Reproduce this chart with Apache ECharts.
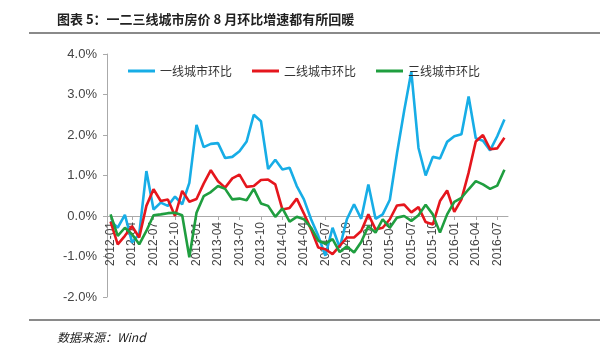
<!DOCTYPE html>
<html><head><meta charset="utf-8">
<script src="https://cdn.jsdelivr.net/npm/echarts@6/dist/echarts.min.js"></script>
<style>html,body{margin:0;padding:0;background:#fff}#c{width:600px;height:355px}</style>
</head><body><div id="c"></div>
<script>
const months = [];
for (let y = 2012; y <= 2016; y++) for (let m = 1; m <= 12; m++) { if (y === 2016 && m > 8) break; months.push(y + '-' + String(m).padStart(2, '0')); }
const seriesNames = ['一线城市环比', '二线城市环比', '三线城市环比'];
const tier1 = [-0.12,-0.29,0.03,-0.65,-0.45,1.11,0.16,0.33,0.25,0.48,0.29,0.82,
  2.25,1.70,1.78,1.80,1.43,1.46,1.60,1.84,2.50,2.34,1.16,1.39,
  1.15,1.19,0.74,0.41,-0.08,-0.49,-0.98,-0.29,-0.78,-0.08,0.29,-0.07,
  0.78,-0.07,0.04,0.40,1.55,2.60,3.56,1.68,1.00,1.46,1.42,1.83,
  1.97,2.02,2.95,1.92,1.86,1.62,1.97,2.38];
const tier2 = [-0.14,-0.70,-0.49,-0.25,-0.53,0.25,0.66,0.37,0.41,0.00,0.62,0.35,
  0.42,0.80,1.13,0.86,0.70,0.93,1.02,0.72,0.74,0.89,0.90,0.78,
  0.16,0.20,0.43,0.06,-0.33,-0.78,-0.82,-0.94,-0.74,-0.53,-0.53,-0.37,
  0.04,-0.33,-0.29,-0.08,0.26,0.28,0.09,0.22,-0.15,-0.21,0.37,0.63,
  0.10,0.41,1.07,1.84,2.00,1.65,1.67,1.93];
const tier3 = [0.04,-0.49,-0.29,-0.45,-0.70,-0.37,0.02,0.04,0.07,0.08,0.02,-1.02,
  0.08,0.49,0.59,0.74,0.67,0.41,0.43,0.39,0.67,0.31,0.25,-0.02,
  0.19,-0.14,-0.02,-0.08,-0.29,-0.61,-0.68,-0.57,-0.89,-0.75,-0.90,-0.64,
  -0.25,-0.41,-0.08,-0.29,-0.04,0.00,-0.12,0.02,0.28,0.04,-0.41,0.04,
  0.35,0.45,0.66,0.86,0.78,0.67,0.75,1.14];
const yTicks = { min: -2, max: 4, interval: 1 };
const colors = ['#17ADE6', '#E5161D', '#1F9E3F'];

const gridTop = 54, gridBottom = 58, chartH = 355;
const plotH = chartH - gridTop - gridBottom;
const zeroOffset = -plotH * (0 - yTicks.min) / (yTicks.max - yTicks.min);

const chart = echarts.init(document.getElementById('c'));
const txtFont = '"Liberation Sans", Arial, "Noto Sans CJK SC", sans-serif';
chart.setOption({
  animation: false,
  color: colors,
  grid: { left: 107, right: 92, top: gridTop, bottom: gridBottom, containLabel: false },
  graphic: [
    { type: 'text', left: 57, top: 13, style: { text: '图表 5：一二三线城市房价 8 月环比增速都有所回暖', font: 'bold 13px "Noto Sans CJK SC", sans-serif', fill: '#222' } },
    { type: 'rect', shape: { x: 29, y: 32, width: 571, height: 2 }, style: { fill: '#8a8a8a' } },
    { type: 'rect', shape: { x: 29, y: 319, width: 571, height: 2 }, style: { fill: '#8a8a8a' } },
    { type: 'text', left: 57, top: 331, style: { text: '数据来源：Wind', font: 'italic 12px "Noto Sans CJK SC", sans-serif', fill: '#222' } }
  ],
  legend: {
    top: 60, left: 123, itemGap: 20, itemWidth: 27, itemHeight: 3,
    icon: 'rect',
    textStyle: { fontSize: 12, color: '#333', fontFamily: '"Noto Sans CJK SC", sans-serif' },
    data: seriesNames
  },
  xAxis: {
    type: 'category', data: months, boundaryGap: true,
    offset: zeroOffset,
    axisLine: { onZero: false, lineStyle: { color: '#aaa', width: 1 } },
    axisTick: { show: true, interval: 2, alignWithLabel: true, length: 4, lineStyle: { color: '#aaa' } },
    axisLabel: { interval: 2, rotate: 90, fontSize: 12, color: '#444', fontFamily: txtFont, margin: 6 }
  },
  yAxis: {
    type: 'value', min: yTicks.min, max: yTicks.max, interval: yTicks.interval,
    axisLine: { show: true, lineStyle: { color: '#aaa' } },
    axisTick: { show: true, length: 4, lineStyle: { color: '#aaa' } },
    splitLine: { show: false },
    axisLabel: { formatter: v => v.toFixed(1) + '%', fontSize: 13, color: '#444', fontFamily: txtFont, margin: 10 }
  },
  series: [
    { name: seriesNames[0], type: 'line', data: tier1, showSymbol: false, lineStyle: { width: 2.6 } },
    { name: seriesNames[1], type: 'line', data: tier2, showSymbol: false, lineStyle: { width: 2.6 } },
    { name: seriesNames[2], type: 'line', data: tier3, showSymbol: false, lineStyle: { width: 2.6 } }
  ]
});
</script></body></html>
